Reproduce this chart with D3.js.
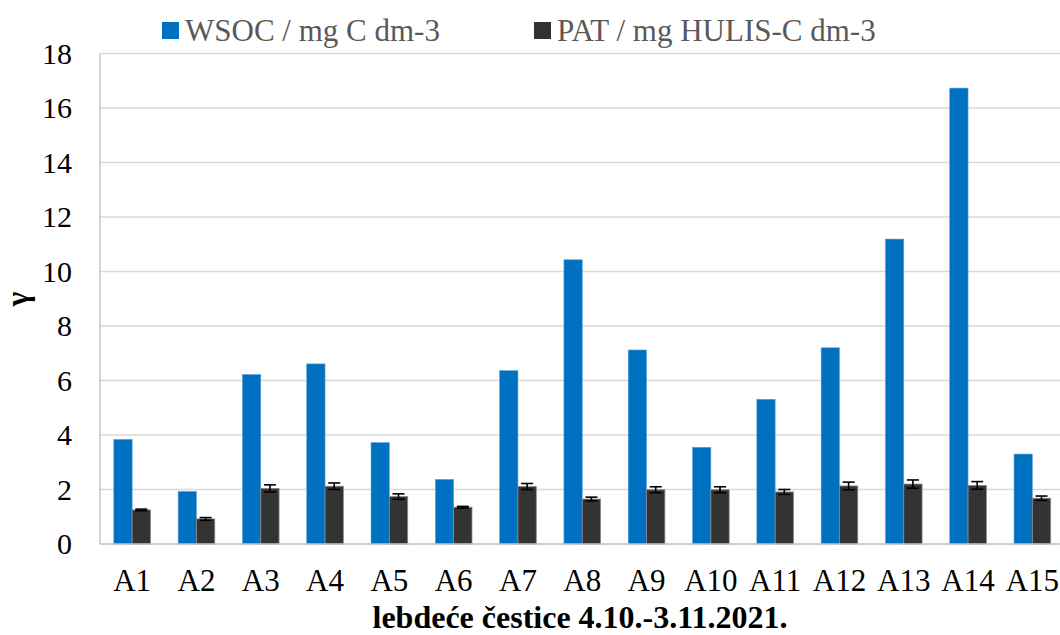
<!DOCTYPE html>
<html><head><meta charset="utf-8">
<script src="https://cdn.jsdelivr.net/npm/d3@7"></script>
<style>body{margin:0;background:#fff}svg{display:block}</style>
</head><body>
<svg id="c" width="1060" height="635"></svg>
<script>
const categories = ["A1","A2","A3","A4","A5","A6","A7","A8","A9","A10","A11","A12","A13","A14","A15"];
const wsoc = [3.84,1.93,6.22,6.61,3.72,2.37,6.36,10.43,7.12,3.55,5.31,7.20,11.19,16.73,3.30];
const pat = [1.25,0.92,2.04,2.12,1.74,1.35,2.11,1.65,1.99,1.99,1.91,2.13,2.20,2.15,1.68];
const patErr = [0.03,0.05,0.13,0.12,0.10,0.03,0.11,0.07,0.11,0.11,0.09,0.14,0.15,0.14,0.08];
const seriesNames = ["WSOC / mg C dm-3","PAT / mg HULIS-C dm-3"];
const yTicks = [0,2,4,6,8,10,12,14,16,18];

const svg = d3.select("#c");
const L=100, R=1064.5, T=53.5, B=544;
const x = d3.scaleBand().domain(categories).range([L,R]).paddingInner(0.43).paddingOuter(0.215);
const y = d3.scaleLinear().domain([0,18]).range([B,T]);
const sub = d3.scaleBand().domain([0,1]).range([0,x.bandwidth()]);
const font = "'Liberation Serif','Times New Roman',serif";

// gridlines
svg.append("g").selectAll("line").data(yTicks.filter(d=>d>0)).join("line")
  .attr("x1",L).attr("x2",R).attr("y1",d=>y(d)).attr("y2",d=>y(d))
  .attr("stroke","#d9d9d9").attr("stroke-width",1.3);

// y axis labels
const yAxis = d3.axisLeft(y).tickValues(yTicks).tickSize(0).tickPadding(28);
const ga = svg.append("g").attr("transform",`translate(${L},0)`).call(yAxis);
ga.select(".domain").remove();
ga.selectAll("text").attr("font-family",font).attr("font-size",30).attr("fill","#000");

// bars
const colors = ["#0070C0","#333333"];
const gBars = svg.append("g");
gBars.selectAll("rect.w").data(categories).join("rect").attr("class","w")
  .attr("x",d=>x(d)+sub(0)).attr("width",sub.bandwidth())
  .attr("y",(d,i)=>y(wsoc[i])).attr("height",(d,i)=>y(0)-y(wsoc[i]))
  .attr("fill",colors[0]).attr("stroke","#5ba3d9").attr("stroke-width",0.6);
gBars.selectAll("rect.p").data(categories).join("rect").attr("class","p")
  .attr("x",d=>x(d)+sub(1)).attr("width",sub.bandwidth())
  .attr("y",(d,i)=>y(pat[i])).attr("height",(d,i)=>y(0)-y(pat[i]))
  .attr("fill",colors[1]).attr("stroke","#8a8a8a").attr("stroke-width",0.8);

// error bars
const gE = svg.append("g").attr("stroke","#000").attr("stroke-width",1.6);
categories.forEach((c,i)=>{
  const cx = x(c)+sub(1)+sub.bandwidth()/2;
  const y1=y(pat[i]+patErr[i]), y2=y(pat[i]-patErr[i]);
  gE.append("line").attr("x1",cx).attr("x2",cx).attr("y1",y1).attr("y2",y2);
  gE.append("line").attr("x1",cx-6).attr("x2",cx+6).attr("y1",y1).attr("y2",y1);
  gE.append("line").attr("x1",cx-6).attr("x2",cx+6).attr("y1",y2).attr("y2",y2);
});

// axes lines
svg.append("line").attr("x1",L).attr("x2",L).attr("y1",T).attr("y2",B).attr("stroke","#bfbfbf").attr("stroke-width",1.3);
svg.append("line").attr("x1",L).attr("x2",R).attr("y1",B).attr("y2",B).attr("stroke","#bfbfbf").attr("stroke-width",1.3);

// x axis labels
const xAxis = d3.axisBottom(x).tickSize(0).tickPadding(25);
const gx = svg.append("g").attr("transform",`translate(0,${B})`).call(xAxis);
gx.select(".domain").remove();
gx.selectAll("text").attr("font-family",font).attr("font-size",31).attr("fill","#000");

// axis titles
svg.append("text").attr("transform","translate(28,299) rotate(-90)").attr("text-anchor","middle")
  .attr("font-family",font).attr("font-size",31).attr("font-weight","bold").attr("fill","#000").text("γ");
svg.append("text").attr("x",580).attr("y",628).attr("text-anchor","middle")
  .attr("font-family",font).attr("font-size",32).attr("font-weight","bold").attr("fill","#000")
  .text("lebdeće čestice 4.10.-3.11.2021.");

// legend
const legX = [162,534];
seriesNames.forEach((s,i)=>{
  svg.append("rect").attr("x",legX[i]).attr("y",22).attr("width",17).attr("height",17).attr("fill",colors[i]);
  svg.append("text").attr("x",legX[i]+23).attr("y",41).attr("font-family",font).attr("font-size",31)
    .attr("fill","#595959").text(s);
});
</script>
</body></html>
